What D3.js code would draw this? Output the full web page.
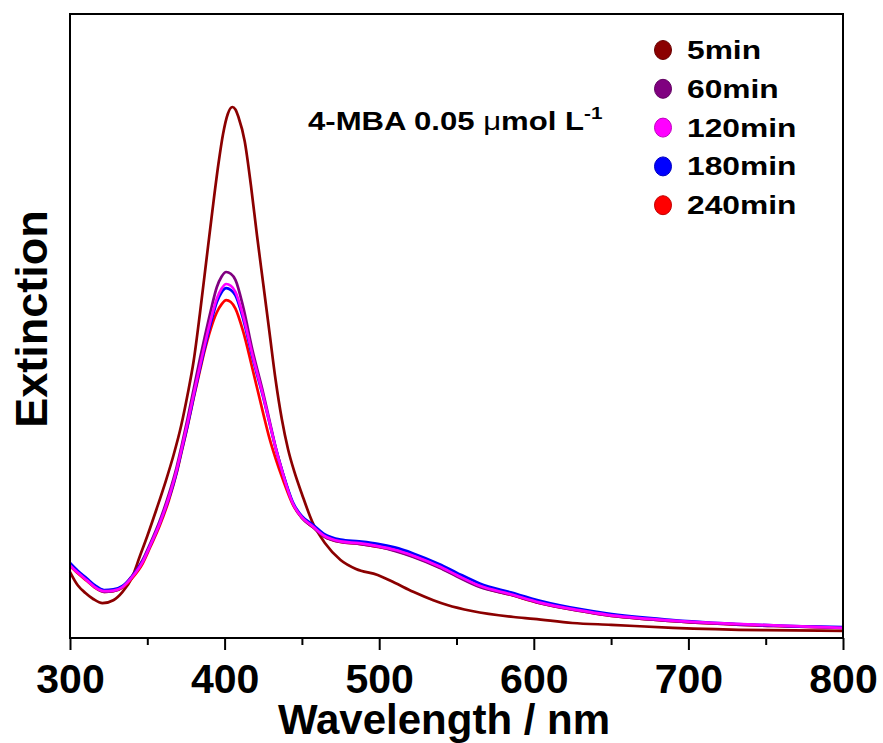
<!DOCTYPE html>
<html>
<head>
<meta charset="utf-8">
<script src="https://cdn.jsdelivr.net/npm/d3@7"></script>
<style>
  body { margin: 0; background: #fff; }
  text { font-family: "Liberation Sans", Arial, sans-serif; font-weight: bold; }
</style>
</head>
<body>
<div id="chart"></div>
<script>
// wavelength (nm)
const wl5 = [300, 305, 310, 315, 321, 328, 334, 340, 345, 350, 356, 362, 367, 372, 376, 380, 384, 388, 392, 396, 399, 402, 405, 407, 409, 413, 417, 421, 425, 429, 433, 437, 441, 445, 450, 457, 465, 475, 485, 499, 510, 522, 535, 544, 560, 587, 600, 625, 650, 690, 750, 800];
const ext5 = [0.110, 0.088, 0.075, 0.065, 0.058, 0.063, 0.077, 0.100, 0.135, 0.170, 0.215, 0.262, 0.305, 0.355, 0.405, 0.462, 0.540, 0.625, 0.710, 0.790, 0.840, 0.873, 0.885, 0.881, 0.868, 0.828, 0.755, 0.670, 0.590, 0.510, 0.430, 0.365, 0.315, 0.278, 0.240, 0.192, 0.158, 0.130, 0.115, 0.105, 0.092, 0.077, 0.063, 0.055, 0.045, 0.035, 0.032, 0.025, 0.022, 0.017, 0.013, 0.012];

const wlB = [300, 305, 311, 316, 322, 328, 334, 340, 347, 352, 358, 364, 369, 372, 376, 380, 384, 387, 391, 395, 398, 401, 404, 407, 412, 418, 425, 429, 433, 438, 444, 450, 457, 464, 475, 487, 499, 510, 522, 539, 550, 565, 585, 604, 630, 647, 690, 755, 800];
const ext60 = [0.123, 0.110, 0.097, 0.085, 0.077, 0.078, 0.085, 0.103, 0.130, 0.158, 0.195, 0.240, 0.285, 0.318, 0.365, 0.415, 0.465, 0.500, 0.545, 0.585, 0.602, 0.610, 0.607, 0.597, 0.552, 0.480, 0.408, 0.363, 0.318, 0.272, 0.225, 0.200, 0.185, 0.170, 0.160, 0.157, 0.152, 0.145, 0.135, 0.117, 0.103, 0.085, 0.072, 0.058, 0.045, 0.038, 0.028, 0.020, 0.017];
const ext120 = [0.121, 0.109, 0.096, 0.085, 0.078, 0.079, 0.085, 0.101, 0.127, 0.155, 0.191, 0.235, 0.280, 0.313, 0.358, 0.406, 0.453, 0.487, 0.530, 0.566, 0.582, 0.590, 0.587, 0.577, 0.537, 0.472, 0.403, 0.360, 0.317, 0.271, 0.225, 0.201, 0.186, 0.171, 0.161, 0.158, 0.153, 0.147, 0.137, 0.119, 0.105, 0.087, 0.073, 0.059, 0.046, 0.039, 0.029, 0.021, 0.017];
const ext180 = [0.125, 0.112, 0.099, 0.088, 0.080, 0.081, 0.087, 0.102, 0.128, 0.155, 0.191, 0.233, 0.277, 0.310, 0.354, 0.402, 0.449, 0.482, 0.524, 0.560, 0.576, 0.583, 0.580, 0.571, 0.532, 0.468, 0.401, 0.359, 0.317, 0.272, 0.227, 0.203, 0.189, 0.174, 0.164, 0.161, 0.157, 0.151, 0.141, 0.123, 0.109, 0.091, 0.076, 0.062, 0.048, 0.041, 0.030, 0.021, 0.018];
const ext240 = [0.120, 0.108, 0.095, 0.084, 0.077, 0.078, 0.084, 0.099, 0.124, 0.152, 0.187, 0.230, 0.275, 0.308, 0.352, 0.400, 0.445, 0.478, 0.515, 0.543, 0.556, 0.563, 0.560, 0.549, 0.511, 0.449, 0.374, 0.333, 0.299, 0.262, 0.223, 0.200, 0.185, 0.170, 0.160, 0.157, 0.152, 0.146, 0.136, 0.118, 0.104, 0.086, 0.072, 0.058, 0.045, 0.038, 0.028, 0.020, 0.017];

const legendLabels = ['5min', '60min', '120min', '180min', '240min'];
const legendColors = ['#8b0000', '#800080', '#ff00ff', '#0000ff', '#ff0000'];
const xTicks = [300, 400, 500, 600, 700, 800];
const xMinorTicks = [350, 450, 550, 650, 750];

const W = 883, H = 743;
const margin = { top: 14, right: 40, bottom: 105, left: 70 };
const width = W - margin.left - margin.right;
const height = H - margin.top - margin.bottom;

const svg = d3.select('#chart').append('svg')
    .attr('width', W)
    .attr('height', H);

const g = svg.append('g').attr('transform', 'translate(' + margin.left + ',' + margin.top + ')');

const x = d3.scaleLinear().domain([300, 800]).range([0, width]);
const y = d3.scaleLinear().domain([0, 1.04]).range([height, 0]);

const line = d3.line()
    .x(d => x(d[0]))
    .y(d => y(d[1]))
    .curve(d3.curveMonotoneX);

const pair = (w, e) => w.map((v, i) => [v, e[i]]);

// drawing order chosen so that magenta ends up on top like the picture
const series = [
    { data: pair(wl5, ext5), color: legendColors[0] },
    { data: pair(wlB, ext240), color: legendColors[4] },
    { data: pair(wlB, ext60), color: legendColors[1] },
    { data: pair(wlB, ext180), color: legendColors[3] },
    { data: pair(wlB, ext120), color: legendColors[2] }
];

g.selectAll('.curve')
    .data(series)
    .enter()
    .append('path')
    .attr('class', 'curve')
    .attr('fill', 'none')
    .attr('stroke', d => d.color)
    .attr('stroke-width', 2.7)
    .attr('stroke-linejoin', 'round')
    .attr('d', d => line(d.data));

// frame
g.append('rect')
    .attr('width', width)
    .attr('height', height)
    .attr('fill', 'none')
    .attr('stroke', '#000')
    .attr('stroke-width', 2);

// x axis major
const xAxis = g.append('g')
    .attr('transform', 'translate(0,' + height + ')')
    .call(d3.axisBottom(x).tickValues(xTicks).tickSize(12).tickFormat(d3.format('d')));
xAxis.select('.domain').remove();
xAxis.selectAll('line').attr('stroke-width', 2);
xAxis.selectAll('text')
    .attr('dy', null)
    .attr('y', 55)
    .style('font-size', '41px')
    .style('font-family', '"Liberation Sans", Arial, sans-serif')
    .style('font-weight', 'bold')
    .attr('fill', '#000');

// x axis minor
const xMinor = g.append('g')
    .attr('transform', 'translate(0,' + height + ')')
    .call(d3.axisBottom(x).tickValues(xMinorTicks).tickSize(7).tickFormat(''));
xMinor.select('.domain').remove();
xMinor.selectAll('line').attr('stroke-width', 2);

// axis titles
svg.append('text')
    .attr('x', 444)
    .attr('y', 734)
    .attr('text-anchor', 'middle')
    .style('font-size', '42px')
    .text('Wavelength / nm');

svg.append('text')
    .attr('transform', 'translate(47,319) rotate(-90)')
    .attr('text-anchor', 'middle')
    .style('font-size', '45px')
    .text('Extinction');

// annotation
const note = svg.append('text')
    .attr('transform', 'translate(308,130) scale(1.22,1)')
    .style('font-size', '25.5px');
note.append('tspan').text('4-MBA 0.05 ');
note.append('tspan').style('font-weight', 'normal').text('\u03bc');
note.append('tspan').text('mol L');
note.append('tspan').attr('dy', -11).style('font-size', '17px').text('-1');

// legend
const legend = svg.append('g');
legendLabels.forEach((lab, i) => {
    const base = 59 + i * 38.8;
    legend.append('ellipse')
        .attr('cx', 663)
        .attr('cy', base - 9)
        .attr('rx', 8.5)
        .attr('ry', 9.5)
        .attr('fill', legendColors[i])
        .attr('stroke', d3.color(legendColors[i]).darker(0.8))
        .attr('stroke-width', 1);
    legend.append('text')
        .attr('transform', 'translate(687,' + base + ') scale(1.27,1)')
        .style('font-size', '25px')
        .text(lab);
});
</script>
</body>
</html>
